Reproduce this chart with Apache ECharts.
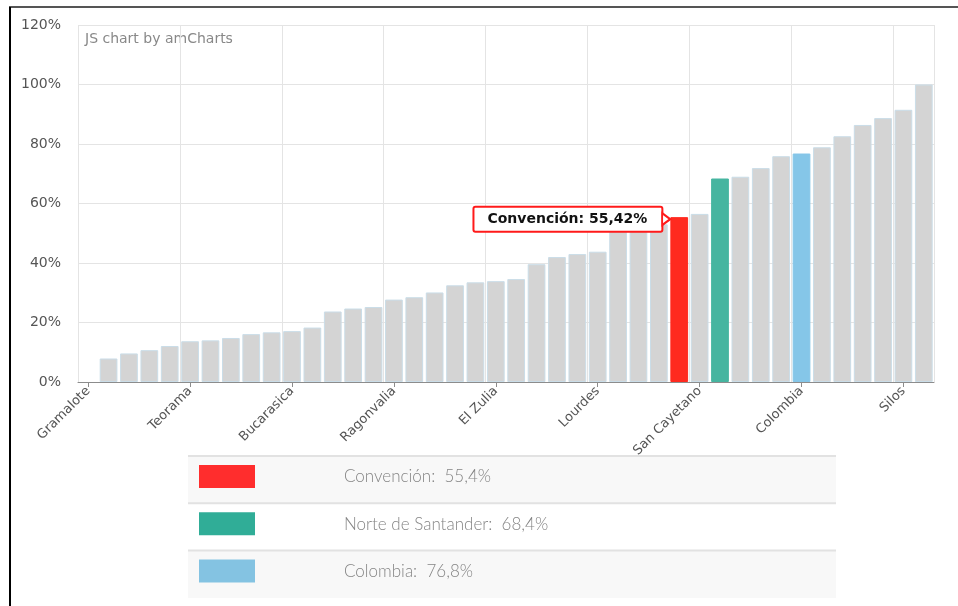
<!DOCTYPE html>
<html>
<head>
<meta charset="utf-8">
<script src="https://cdn.jsdelivr.net/npm/echarts@6/dist/echarts.min.js"></script>
<style>
html,body{margin:0;padding:0;background:#fff;}
#chart{width:958px;height:606px;}
</style>
</head>
<body>
<div id="chart"></div>
<script>
// Categories (municipalities sorted by value); only every 5th name is visible in the reference
const categories = [
  'Gramalote','Ábrego','Arboledas','Bochalema','Cáchira',
  'Teorama','Cácota','Chinácota','Chitagá','Cúcuta',
  'Bucarasica','Cucutilla','Durania','El Carmen','El Tarra',
  'Ragonvalia','Hacarí','Herrán','La Esperanza','La Playa',
  'El Zulia','Labateca','Los Patios','Mutiscua','Ocaña',
  'Lourdes','Pamplona','Pamplonita','Puerto Santander','Convención',
  'San Cayetano','Norte de Santander','Salazar','San Calixto','Santiago',
  'Colombia','Sardinata','Tibú','Toledo','Villa Caro',
  'Silos','Villa del Rosario'
];
const values = [
  0, 7.9, 9.6, 10.7, 12.1,
  13.7, 14.0, 14.8, 16.1, 16.7,
  17.1, 18.3, 23.7, 24.7, 25.2,
  27.7, 28.5, 30.1, 32.5, 33.5,
  33.9, 34.6, 39.6, 42.0, 43.0,
  43.8, 50.6, 51.4, 53.0, 55.42,
  56.5, 68.4, 69.0, 71.9, 75.9,
  76.8, 78.9, 82.6, 86.4, 88.7,
  91.5, 100
];
const yTicks = { min: 0, max: 120, interval: 20 };
const highlightNames = ['Convención', 'Norte de Santander', 'Colombia'];
const highlightColors = ['#ff2a1f', '#46b5a0', '#85c6e8'];
const legendColors = ['#ff2d2d', '#30ad97', '#84c3e2'];
const legendLabels = ['Convención:  55,4%', 'Norte de Santander:  68,4%', 'Colombia:  76,8%'];
const calloutName = 'Convención';
const calloutText = 'Convención: 55,42%';

const FONT = 'DejaVu Sans, Verdana, sans-serif';

const barData = categories.map((c, i) => {
  const h = highlightNames.indexOf(c);
  const item = { value: values[i] };
  if (values[i] === 0) {
    item.itemStyle = { borderWidth: 0 };
  }
  if (h >= 0) {
    item.itemStyle = { color: highlightColors[h], borderColor: highlightColors[h], opacity: 1 };
  }
  if (c === calloutName) {
    item.label = {
      show: true,
      position: [-9, 2],
      align: 'right',
      verticalAlign: 'middle',
      formatter: calloutText,
      fontFamily: FONT,
      fontWeight: 'bold',
      fontSize: 14,
      color: '#111',
      backgroundColor: '#fff',
      borderColor: '#ff1a1a',
      borderWidth: 2,
      borderRadius: 1,
      padding: [5, 14, 4, 13]
    };
  }
  return item;
});

// legend graphics
const legendGraphics = [];
const rowTop = 456, rowH = 47.3;
legendLabels.forEach((t, i) => {
  const y = rowTop + i * rowH;
  legendGraphics.push({
    type: 'rect', shape: { x: 188, y: y, width: 648, height: rowH },
    style: { fill: i % 2 === 0 ? '#f8f8f8' : '#ffffff' }, silent: true
  });
  legendGraphics.push({
    type: 'line', shape: { x1: 188, y1: y, x2: 836, y2: y },
    style: { stroke: '#e2e2e2', lineWidth: 2 }, silent: true
  });
  legendGraphics.push({
    type: 'rect', shape: { x: 199, y: y + 9, width: 56, height: 23 },
    style: { fill: legendColors[i] }, silent: true
  });
  legendGraphics.push({
    type: 'text', x: 344, y: y + 21,
    style: { text: t, fill: '#858585', font: '300 17px Lato, "Open Sans", sans-serif', textVerticalAlign: 'middle' },
    silent: true
  });
});

const chart = echarts.init(document.getElementById('chart'), null, { renderer: 'canvas' });
chart.setOption({
  animation: false,
  backgroundColor: '#fff',
  grid: { left: 78, right: 24, top: 25, bottom: 224, containLabel: false },
  xAxis: {
    type: 'category',
    data: categories,
    boundaryGap: true,
    axisLine: { show: true, lineStyle: { color: '#8c8c8c', width: 1 } },
    axisTick: { show: true, alignWithLabel: true, interval: 4, length: 5, lineStyle: { color: '#8c8c8c' } },
    axisLabel: { interval: 4, rotate: 45, margin: 7, color: '#555', fontFamily: FONT, fontSize: 13 },
    splitLine: { show: true, interval: 4, lineStyle: { color: '#e4e4e4', width: 1 } }
  },
  yAxis: {
    type: 'value',
    min: yTicks.min, max: yTicks.max, interval: yTicks.interval,
    axisLine: { show: false },
    axisTick: { show: false },
    axisLabel: { formatter: '{value}%', color: '#555', fontFamily: FONT, fontSize: 14, margin: 17 },
    splitLine: { show: true, lineStyle: { color: '#e4e4e4', width: 1 } }
  },
  series: [{
    type: 'bar',
    data: barData,
    barCategoryGap: '13%',
    itemStyle: { color: '#d4d4d4', borderColor: '#cadde8', borderWidth: 1 },
    emphasis: { disabled: true },
    markPoint: {
      silent: true,
      symbol: 'triangle',
      symbolSize: [12, 8],
      symbolRotate: -90,
      symbolOffset: [-13, 2],
      itemStyle: { color: '#fff', borderColor: '#ff1a1a', borderWidth: 2 },
      label: { show: false },
      data: [{ coord: [calloutName, values[categories.indexOf(calloutName)]] }]
    }
  }],
  graphic: [
    { type: 'line', shape: { x1: 9, y1: 7, x2: 958, y2: 7 }, style: { stroke: '#555', lineWidth: 2 }, silent: true },
    { type: 'line', shape: { x1: 10, y1: 7, x2: 10, y2: 606 }, style: { stroke: '#000', lineWidth: 2 }, silent: true },
    { type: 'text', x: 85, y: 32, style: { text: 'JS chart by amCharts', fill: '#888', font: '14px "DejaVu Sans", Verdana, sans-serif' }, silent: true }
  ].concat(legendGraphics)
});
</script>
</body>
</html>
